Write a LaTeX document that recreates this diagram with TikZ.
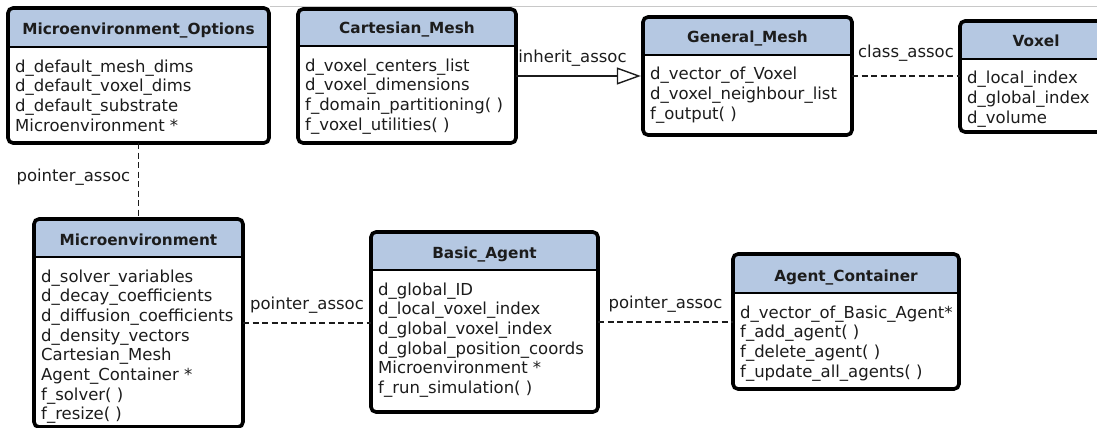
\documentclass[tikz,border=0pt]{standalone}
\usepackage{fontspec}
\setmainfont{DejaVu Sans}
\usetikzlibrary{arrows.meta,fit,calc}

\definecolor{hdrblue}{RGB}{181,200,226}
\definecolor{ink}{RGB}{28,28,28}
\definecolor{rule}{RGB}{200,200,200}

\tikzset{
  classborder/.style={draw=black, line width=3.6pt, rounded corners=5pt},
  hdrline/.style={draw=black, line width=2.6pt},
  classtitle/.style={inner sep=0pt, text=ink, font=\fontsize{15.3}{18}\selectfont\bfseries, anchor=base},
  member/.style={inner sep=0pt, text=ink, font=\fontsize{16.5}{19.7}\selectfont, anchor=base west},
  lbl/.style={inner sep=0pt, text=ink, font=\fontsize{16.5}{19.7}\selectfont},
  assoc/.style={draw=ink, line width=1.4pt, dash pattern=on 6pt off 3.5pt},
  inherit/.style={draw=ink, line width=1.4pt, -{Triangle[open, length=24pt, width=17pt, line width=1.4pt]}, shorten >=2pt},
}

% #1 name, #2 left, #3 top, #4 right, #5 bottom, #6 header bottom, #7 title, #8 members
\newcommand{\umlclass}[8]{%
  \fill[white, rounded corners=5pt] (#2,#3) rectangle (#4,#5);
  \begin{scope}
    \clip[rounded corners=5pt] (#2,#3) rectangle (#4,#5);
    \fill[hdrblue] (#2,#3) rectangle (#4,#6);
  \end{scope}
  \draw[hdrline] (#2,#6) -- (#4,#6);
  \draw[classborder] (#2,#3) rectangle (#4,#5);
  \node[fit={(#2,#3) (#4,#5)}, inner sep=0pt] (#1) {};
  \node[classtitle] (#1-title) at ({(#2+#4)/2}, #6-12) {#7};
  \foreach \ln [count=\i from 0] in {#8}
    \node[member] (#1-m\i) at (#2+7, #6+25+19.7*\i) {\ln};
}

\begin{document}
\begin{tikzpicture}[x=1pt, y=-1pt]
\useasboundingbox (0,0) rectangle (1097,428);
\clip (0,0) rectangle (1097,428);

% thin rule along the top edge
\draw[rule, line width=1pt] (270,7) -- (1097,7);

\umlclass{opt}{8}{8}{269}{143}{47}{Microenvironment\_Options}
  {d\_default\_mesh\_dims, d\_default\_voxel\_dims, d\_default\_substrate, Microenvironment *}
\umlclass{cm}{298}{9}{516}{143}{46}{Cartesian\_Mesh}
  {d\_voxel\_centers\_list, d\_voxel\_dimensions, f\_domain\_partitioning( ), f\_voxel\_utilities( )}
\umlclass{gm}{643}{17}{852}{135}{55}{General\_Mesh}
  {d\_vector\_of\_Voxel, d\_voxel\_neighbour\_list, f\_output( )}
\umlclass{vx}{960}{21}{1112}{132}{59}{Voxel}
  {d\_local\_index, d\_global\_index, d\_volume}
\umlclass{me}{34}{219}{243}{427}{257}{Microenvironment}
  {d\_solver\_variables, d\_decay\_coefficients, d\_diffusion\_coefficients, d\_density\_vectors, Cartesian\_Mesh, Agent\_Container *, f\_solver( ), f\_resize( )}
\umlclass{ba}{371}{232}{598}{412}{270}{Basic\_Agent}
  {d\_global\_ID, d\_local\_voxel\_index, d\_global\_voxel\_index, d\_global\_position\_coords, Microenvironment *, f\_run\_simulation( )}
\umlclass{ac}{733}{254}{959}{389}{293}{Agent\_Container}
  {d\_vector\_of\_Basic\_Agent*, f\_add\_agent( ), f\_delete\_agent( ), f\_update\_all\_agents( )}

% connectors
\draw[inherit] (cm.east) -- (gm.west |- cm.east);
\node[lbl, anchor=west] (l-inh) at ([xshift=2pt, yshift=18pt]cm.east) {inherit\_assoc};

\draw[assoc] (gm.east) -- (vx.west |- gm.east);
\node[lbl] (l-cls) at ([yshift=23pt]$(gm.east)!0.5!(vx.west |- gm.east)$) {class\_assoc};

\draw[assoc] (opt.south) -- (opt.south |- me.north);
\node[lbl, anchor=east] (l-ptr1) at ([xshift=-8pt, yshift=-34pt]opt.south) {pointer\_assoc};

\draw[assoc] (me.east) -- (ba.west |- me.east);
\node[lbl] (l-ptr2) at ([yshift=18pt]$(me.east)!0.5!(ba.west |- me.east)$) {pointer\_assoc};

\draw[assoc] (ba.east) -- (ac.west |- ba.east);
\node[lbl] (l-ptr3) at ([yshift=18pt]$(ba.east)!0.5!(ac.west |- ba.east)$) {pointer\_assoc};
\end{tikzpicture}
\end{document}
